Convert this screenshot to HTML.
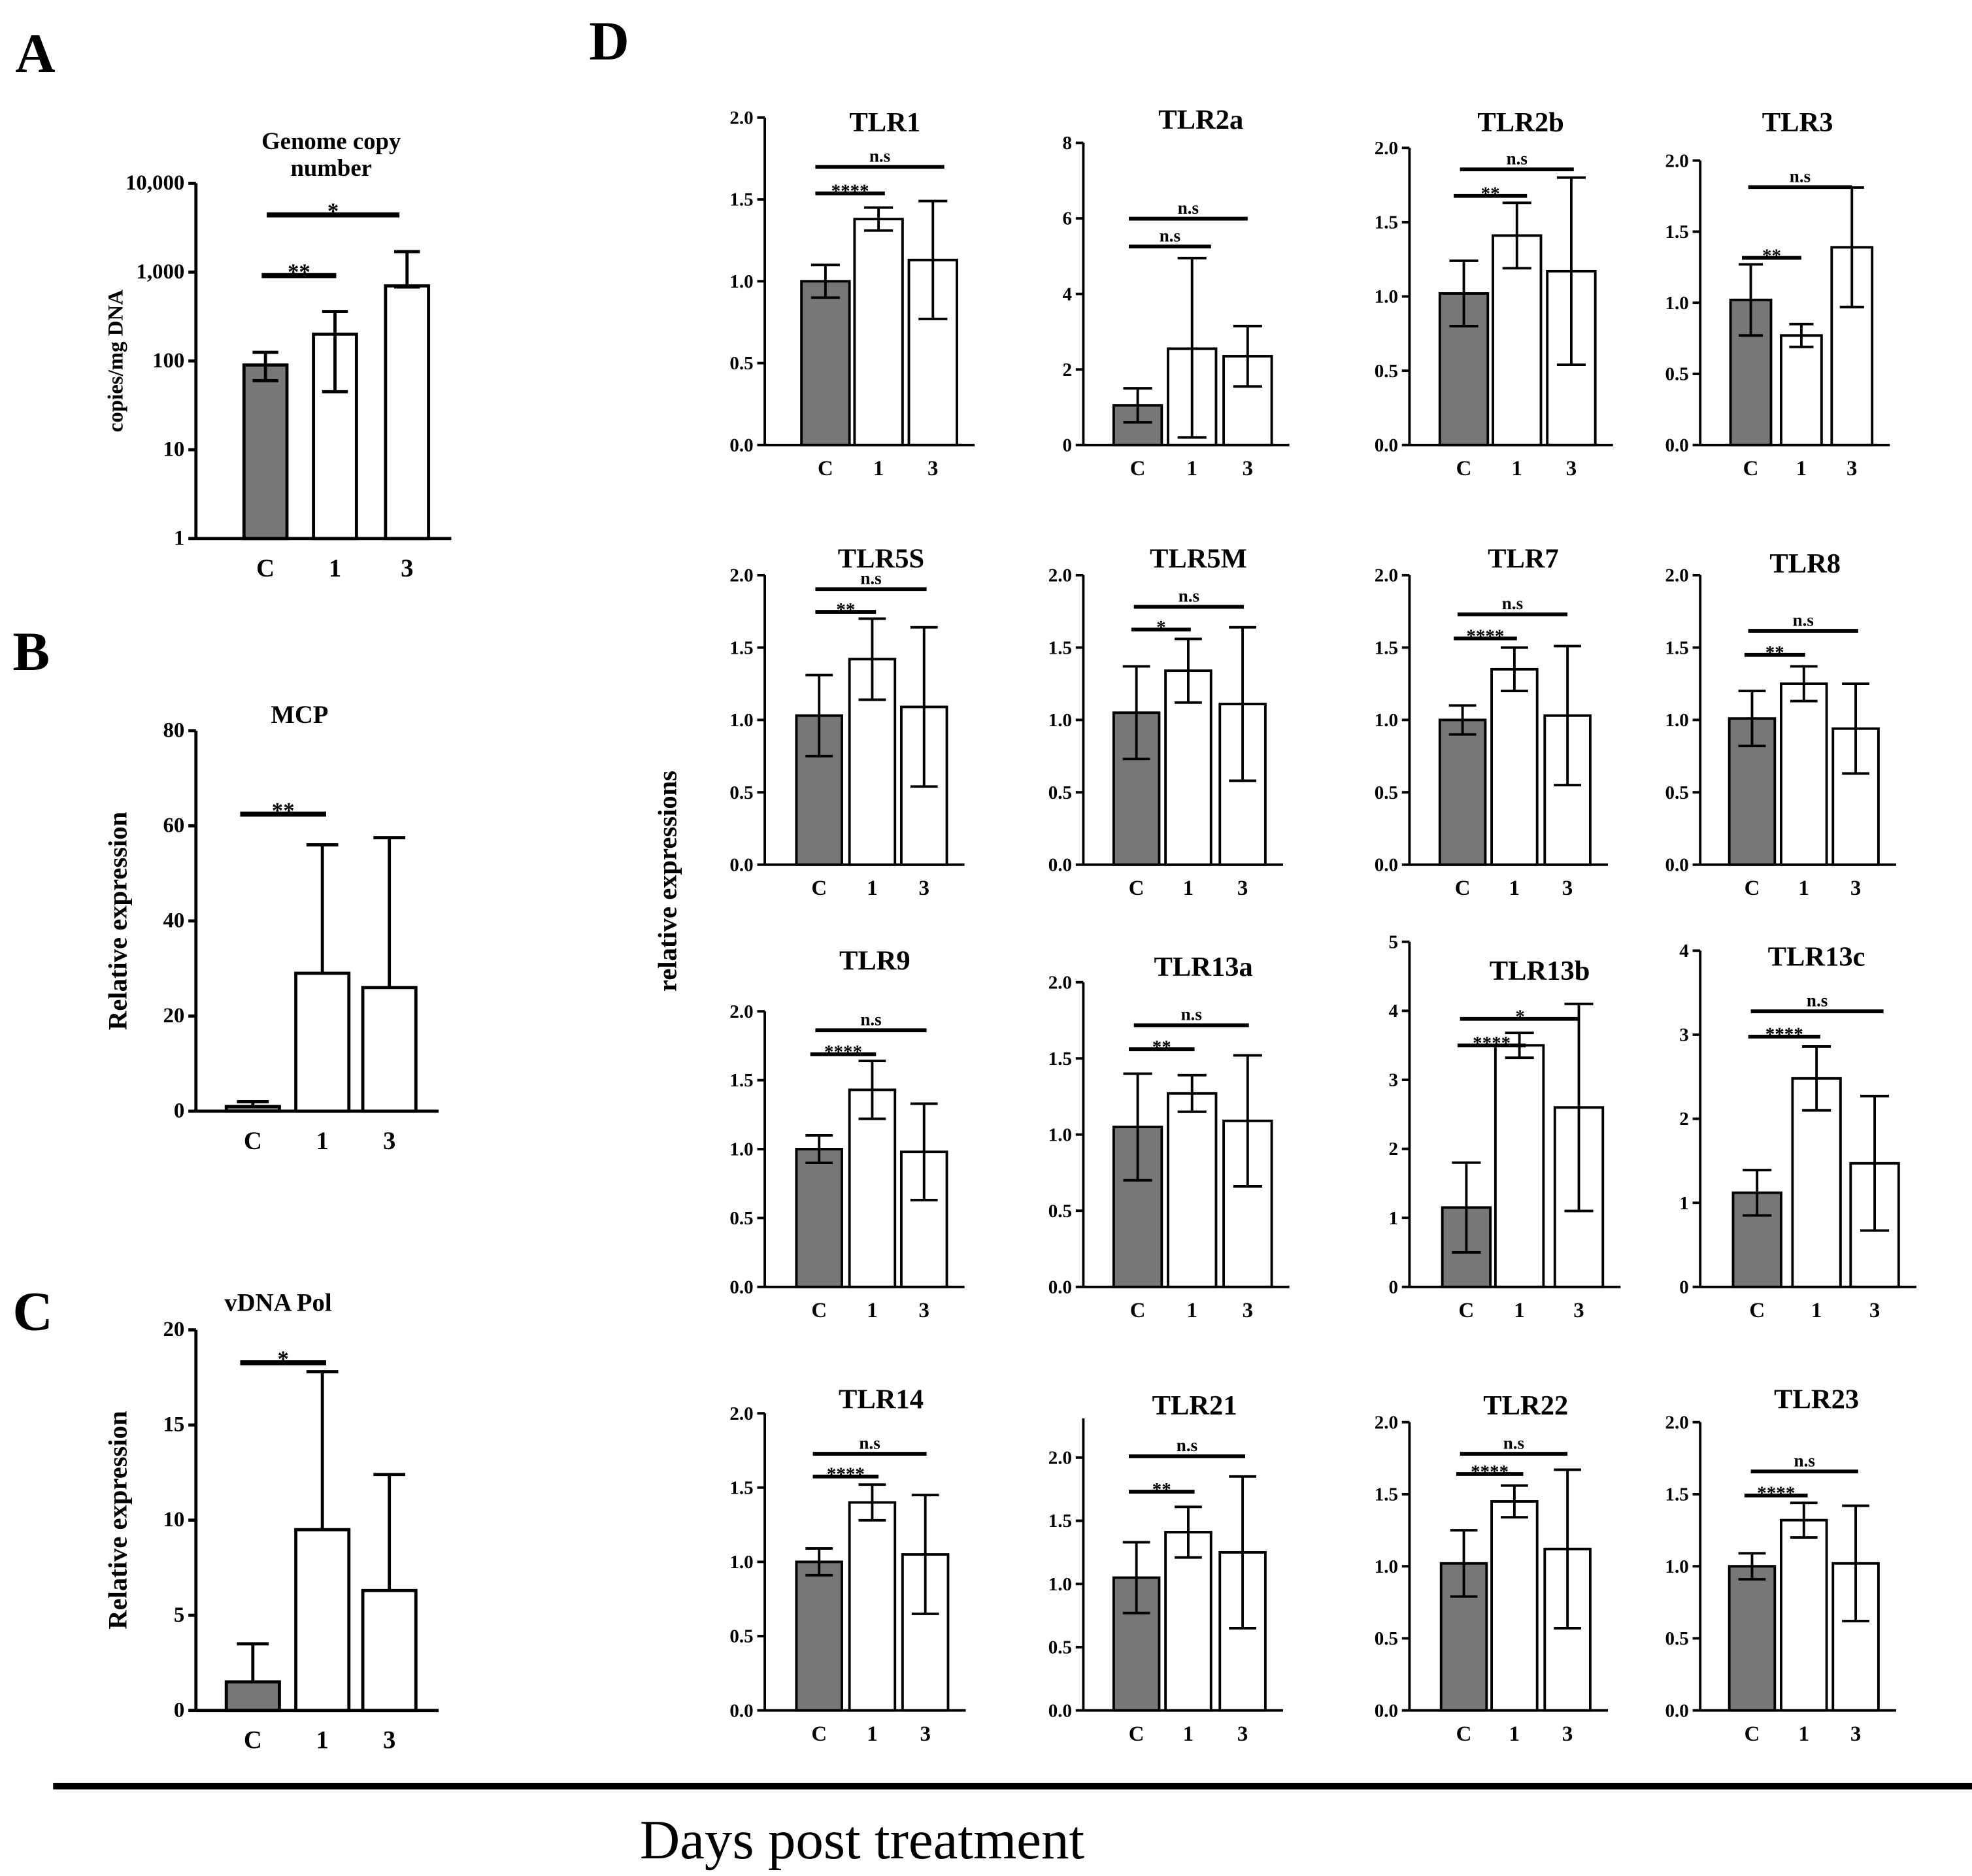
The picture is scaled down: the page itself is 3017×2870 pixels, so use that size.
<!DOCTYPE html>
<html><head><meta charset="utf-8"><style>
html,body{margin:0;padding:0;background:#fff}
svg{display:block}
text{font-family:"Liberation Serif",serif;font-weight:bold;fill:#000}
</style></head><body>
<svg id="fig" width="3017" height="2870" viewBox="0 0 1560 1484" xmlns="http://www.w3.org/2000/svg">
<text x="12" y="57" font-size="44">A</text>
<text x="10" y="530" font-size="44">B</text>
<text x="10" y="1052" font-size="44">C</text>
<text x="466" y="47" font-size="44">D</text>
<text transform="translate(535,697) rotate(-90)" text-anchor="middle" font-size="21">relative expressions</text>
<line x1="42" y1="1413" x2="1560" y2="1413" stroke="#000" stroke-width="5"/>
<text x="682" y="1470" text-anchor="middle" font-size="44" style="font-weight:normal">Days post treatment</text>
</svg>
<script>
const categories = ["C","1","3"];
const panelNames = ["Genome copy number","MCP","vDNA Pol","TLR1","TLR2a","TLR2b","TLR3","TLR5S","TLR5M","TLR7","TLR8","TLR9","TLR13a","TLR13b","TLR13c","TLR14","TLR21","TLR22","TLR23"];
const means = [[90,200,700],[1,29,26],[1.5,9.5,6.3],
[1.0,1.38,1.13],[1.05,2.55,2.35],[1.02,1.41,1.17],[1.02,0.77,1.39],
[1.03,1.42,1.09],[1.05,1.34,1.11],[1.0,1.35,1.03],[1.01,1.25,0.94],
[1.0,1.43,0.98],[1.05,1.27,1.09],[1.15,3.5,2.6],[1.12,2.48,1.47],
[1.0,1.4,1.05],[1.05,1.41,1.25],[1.02,1.45,1.12],[1.0,1.32,1.02]];
const errLow = [[60,45,680],[1,29,26],[1.5,9.5,6.3],
[0.1,0.07,0.36],[0.45,2.35,0.8],[0.22,0.22,0.63],[0.25,0.08,0.42],
[0.28,0.28,0.55],[0.32,0.22,0.53],[0.1,0.15,0.48],[0.19,0.12,0.31],
[0.1,0.21,0.35],[0.35,0.12,0.43],[0.65,0.18,1.5],[0.27,0.38,0.8],
[0.09,0.12,0.4],[0.28,0.2,0.6],[0.23,0.11,0.55],[0.09,0.12,0.4]];
const errHigh = [[125,360,1700],[2,56,57.5],[3.5,17.8,12.4],
[1.1,1.45,1.49],[1.5,4.95,3.15],[1.24,1.63,1.8],[1.27,0.85,1.81],
[1.31,1.7,1.64],[1.37,1.56,1.64],[1.1,1.5,1.51],[1.2,1.37,1.25],
[1.1,1.64,1.33],[1.4,1.39,1.52],[1.8,3.68,4.1],[1.39,2.86,2.27],
[1.09,1.52,1.45],[1.33,1.61,1.85],[1.25,1.56,1.67],[1.09,1.44,1.42]];
const yMax = [10000,80,20,2,8,2,2,2,2,2,2,2,2,5,4,2,2,2,2];
const tickStep = [0,20,5,0.5,2,0.5,0.5,0.5,0.5,0.5,0.5,0.5,0.5,1,1,0.5,0.5,0.5,0.5];
const sigLabels = [["**","*"],["**"],["*"],["****","n.s"],["n.s","n.s"],["**","n.s"],["**","n.s"],
["**","n.s"],["*","n.s"],["****","n.s"],["**","n.s"],["****","n.s"],["**","n.s"],["****","*"],["****","n.s"],
["****","n.s"],["**","n.s"],["****","n.s"],["****","n.s"]];
const L = [
{ax:155,top:145,bot:426,cx:[210,265,322],bw:34,tx:262,ty:118,sig:[[207,266,218],[211,316,170]],log:1,yl:"copies/mg DNA",ylx:97,fs:17},
{ax:155,top:578,bot:879,cx:[200,255,308],bw:42,tx:237,ty:572,sig:[[190,258,644]],up:1,yl:"Relative expression",ylx:100},
{ax:155,top:1052,bot:1353,cx:[200,255,308],bw:42,tx:220,ty:1037,sig:[[190,258,1078]],up:1,yl:"Relative expression",ylx:100},
{ax:605,top:93,bot:352,cx:[653,695,738],bw:38,tx:700,ty:104,sig:[[645,700,153],[645,747,132]]},
{ax:857,top:113,bot:352,cx:[900,943,987],bw:38,tx:950,ty:102,sig:[[893,958,195],[893,987,173]]},
{ax:1115,top:117,bot:352,cx:[1158,1200,1243],bw:38,tx:1203,ty:104,sig:[[1150,1208,155],[1155,1245,134]]},
{ax:1345,top:127,bot:352,cx:[1385,1425,1465],bw:32,tx:1422,ty:104,sig:[[1378,1425,204],[1383,1465,148]]},
{ax:605,top:455,bot:684,cx:[648,690,731],bw:36,tx:697,ty:449,sig:[[645,693,484],[645,733,466]]},
{ax:857,top:455,bot:684,cx:[899,940,983],bw:36,tx:948,ty:449,sig:[[895,942,498],[897,984,480]]},
{ax:1115,top:455,bot:684,cx:[1157,1198,1240],bw:36,tx:1205,ty:449,sig:[[1150,1200,505],[1153,1240,486]]},
{ax:1345,top:455,bot:684,cx:[1386,1427,1468],bw:36,tx:1428,ty:453,sig:[[1380,1428,518],[1383,1470,499]]},
{ax:605,top:800,bot:1018,cx:[648,690,731],bw:36,tx:692,ty:767,sig:[[641,693,834],[645,733,815]]},
{ax:857,top:777,bot:1018,cx:[900,943,987],bw:38,tx:952,ty:772,sig:[[893,945,830],[897,988,811]]},
{ax:1115,top:745,bot:1018,cx:[1160,1202,1249],bw:38,tx:1218,ty:775,sig:[[1153,1207,827],[1155,1250,806]]},
{ax:1345,top:752,bot:1018,cx:[1390,1437,1483],bw:38,tx:1437,ty:764,sig:[[1383,1440,820],[1385,1490,800]]},
{ax:605,top:1118,bot:1353,cx:[648,690,732],bw:36,tx:697,ty:1114,sig:[[643,695,1168],[643,733,1150]]},
{ax:857,top:1153,bot:1353,cx:[899,940,983],bw:36,tx:945,ty:1119,sig:[[893,945,1180],[893,985,1152]],axTop:1122},
{ax:1115,top:1125,bot:1353,cx:[1158,1198,1240],bw:36,tx:1207,ty:1119,sig:[[1152,1205,1166],[1155,1240,1150]]},
{ax:1345,top:1125,bot:1353,cx:[1386,1427,1468],bw:36,tx:1437,ty:1114,sig:[[1380,1430,1183],[1385,1470,1164]]}
];
const NS="http://www.w3.org/2000/svg";
const svg=document.getElementById('fig');
function mk(tag,attrs,parent){const e=document.createElementNS(NS,tag);for(const k in attrs)e.setAttribute(k,attrs[k]);(parent||svg).appendChild(e);return e;}
for(let p=0;p<L.length;p++){
  const g=L[p];
  const grp=mk('g',{});
  
  
  const y = g.log ? (v=>g.bot-(Math.log10(Math.max(v,1))/Math.log10(yMax[p]))*(g.bot-g.top))
                  : (v=>g.bot-v/yMax[p]*(g.bot-g.top));
  const big=p<3;
  const sw=big?2.5:2;
  const xr=g.cx[2]+g.bw/2+(big?18:14);
  const ya=mk('line',{x1:g.ax,y1:g.axTop||g.top,x2:g.ax,y2:g.bot,stroke:'#000','stroke-width':sw},grp);
  
  
  const xa=mk('line',{x1:g.ax,y1:g.bot,x2:xr,y2:g.bot,stroke:'#000','stroke-width':sw},grp);
  
  
  let ticks=[];
  if(g.log){for(let v=1;v<=yMax[p];v*=10)ticks.push(v);}
  else{for(let v=0;v<=yMax[p]+1e-9;v+=tickStep[p])ticks.push(+v.toFixed(2));}
  const fs=big?17:15;
  ticks.forEach(v=>{
    const ty=y(v);
    mk('line',{x1:g.ax-6,y1:ty,x2:g.ax,y2:ty,stroke:'#000','stroke-width':sw},grp);
    const lab = g.log? v.toLocaleString('en-US') : (tickStep[p]<1? v.toFixed(1): String(v));
    const t=mk('text',{x:g.ax-9,y:ty+5,'text-anchor':'end','font-size':fs},grp);
    t.textContent=lab;
    
    
  });
  for(let i=0;i<3;i++){
    const yv=y(means[p][i]);
    const r=mk('rect',{x:g.cx[i]-g.bw/2,y:yv,width:g.bw,height:g.bot-yv,fill:i==0?'#777':'#fff',stroke:'#000','stroke-width':sw},grp);
    
    
    const hi=y(errHigh[p][i]);
    const lo=g.up? yv : (g.log? y(errLow[p][i]) : y(means[p][i]-errLow[p][i]));
    const cap=g.bw*0.3;
    const eb=mk('path',{d:`M${g.cx[i]},${lo}V${hi}M${g.cx[i]-cap},${hi}H${g.cx[i]+cap}`+(g.up?'':`M${g.cx[i]-cap},${lo}H${g.cx[i]+cap}`),stroke:'#000','stroke-width':sw,fill:'none'},grp);
    
    
    const xt=mk('text',{x:g.cx[i],y:g.bot+(big?30:24),'text-anchor':'middle','font-size':big?20:17},grp);
    xt.textContent=categories[i];
    
    
  }
  if(p==0){
    const t1=mk('text',{x:g.tx,y:g.ty,'text-anchor':'middle','font-size':19},grp);t1.textContent='Genome copy';
    
    
    const t2=mk('text',{x:g.tx,y:g.ty+21,'text-anchor':'middle','font-size':19},grp);t2.textContent='number';
    
    
  } else {
    const t=mk('text',{x:g.tx,y:g.ty,'text-anchor':'middle','font-size':big?20:22},grp);
    t.textContent=panelNames[p];
    
    
  }
  if(g.yl){
    const t=mk('text',{transform:`translate(${g.ylx},${(g.top+g.bot)/2}) rotate(-90)`,'text-anchor':'middle','font-size':g.fs||21},grp);
    t.textContent=g.yl;
    
    
  }
  g.sig.forEach((s,k)=>{
    const l=mk('line',{x1:s[0],y1:s[2],x2:s[1],y2:s[2],stroke:'#000','stroke-width':big?4:3},grp);
    
    
    const lab=sigLabels[p][k];
    const t=mk('text',{x:(s[0]+s[1])/2,y:s[2]-(lab=='n.s'?4:-3),'text-anchor':'middle','font-size':big?18:(lab=='n.s'?14:15)},grp);
    t.textContent=lab;
    
    
  });
}
</script>
</body></html>
